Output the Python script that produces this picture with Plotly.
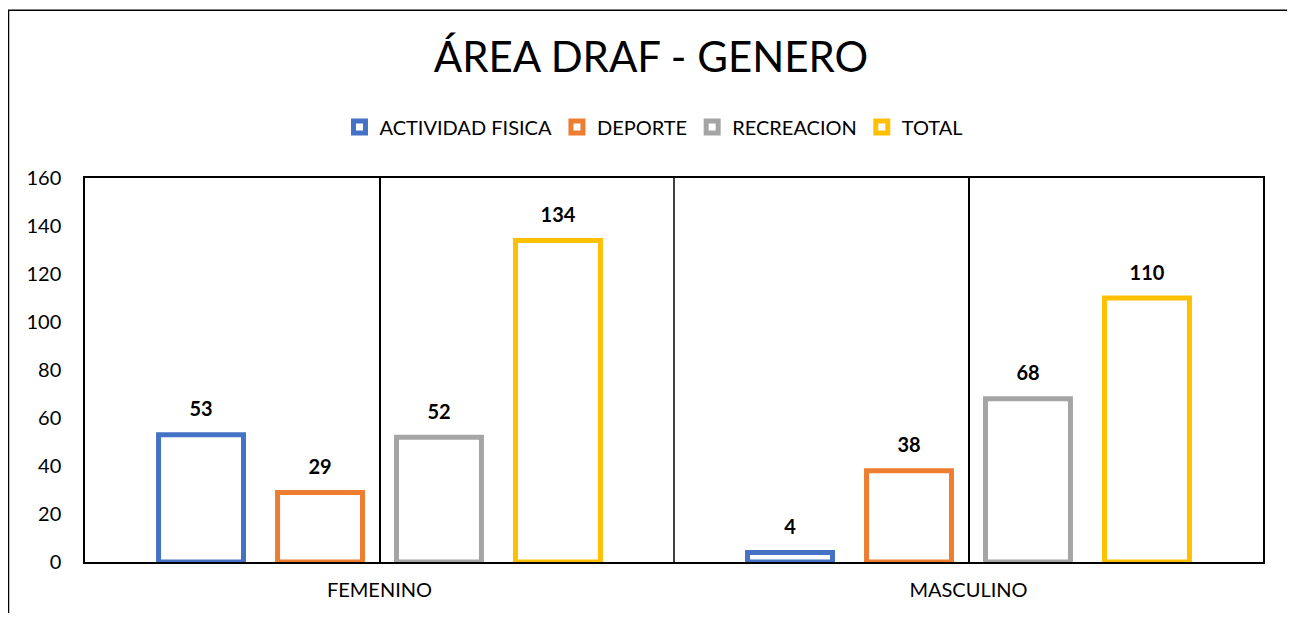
import plotly.graph_objects as go

categories = ["FEMENINO", "MASCULINO"]
series_names = ["ACTIVIDAD FISICA", "DEPORTE", "RECREACION", "TOTAL"]
actividad_fisica = [53, 4]
deporte = [29, 38]
recreacion = [52, 68]
total = [134, 110]
series_values = [actividad_fisica, deporte, recreacion, total]
colors = ["#4472C4", "#ED7D31", "#A5A5A5", "#FFC000"]
y_ticks = [0, 20, 40, 60, 80, 100, 120, 140, 160]

FONT = "Lato"
BARGAP = 0.192
W, H = 1279, 605  # page body has an 8px margin

fig = go.Figure()
for i, (name, vals, col) in enumerate(zip(series_names, series_values, colors)):
    fig.add_trace(go.Bar(
        x=categories, y=vals, name=name, offsetgroup=str(i),
        marker=dict(color="white", line=dict(color=col, width=5)),
        hoverinfo="x+y+name",
    ))
for i, (name, vals) in enumerate(zip(series_names, series_values)):
    fig.add_trace(go.Scatter(
        x=categories, y=vals, mode="markers+text", offsetgroup=str(i),
        text=[f"<b>{v}</b>" for v in vals], textposition="top center",
        textfont=dict(family=FONT, size=20, color="black"),
        marker=dict(size=20, opacity=0), showlegend=False, hoverinfo="skip",
        cliponaxis=False,
    ))

fig.update_layout(
    width=W, height=H,
    paper_bgcolor="white", plot_bgcolor="white",
    margin=dict(l=77, r=24, t=170, b=48),
    barmode="group", bargap=BARGAP, bargroupgap=0.286,
    scattermode="group", scattergap=BARGAP,
    font=dict(family=FONT, size=20, color="black"),
    title=dict(text="ÁREA DRAF - GENERO", x=(651 - 8) / W, xanchor="center",
               y=1 - 49 / H, yanchor="middle", yref="container",
               font=dict(family=FONT, size=42, color="black")),
    legend=dict(orientation="h", x=0.483, xanchor="center",
                y=1 - 119 / H, yanchor="middle", yref="container",
                font=dict(family=FONT, size=20, color="black"),
                itemclick=False),
    showlegend=True,
)
fig.update_xaxes(type="category", showgrid=True, gridcolor="black", gridwidth=1.5,
                 showline=True, mirror=True, linecolor="black", linewidth=1.5,
                 ticks="", ticklabelstandoff=9,
                 tickfont=dict(family=FONT, size=20, color="black"))
fig.update_yaxes(range=[0, 160], tickvals=y_ticks, showgrid=False, zeroline=False,
                 showline=True, mirror=True, linecolor="black", linewidth=1.5,
                 ticks="", ticklabelstandoff=18,
                 tickfont=dict(family=FONT, size=20, color="black"))
# boundary between categories
fig.add_shape(type="line", xref="x", yref="paper", x0=0.5, x1=0.5, y0=0, y1=1,
              line=dict(color="black", width=1.5), layer="below")
# chart frame (figure top is at page y=8)
fig.add_shape(type="rect", xref="paper", yref="paper",
              x0=(8.5 - 85) / 1178, x1=(1292 - 85) / 1178,
              y0=-0.4, y1=(565 - 9) / 387,
              line=dict(color="black", width=1.5), fillcolor="rgba(0,0,0,0)")

fig.write_html("out.html")
